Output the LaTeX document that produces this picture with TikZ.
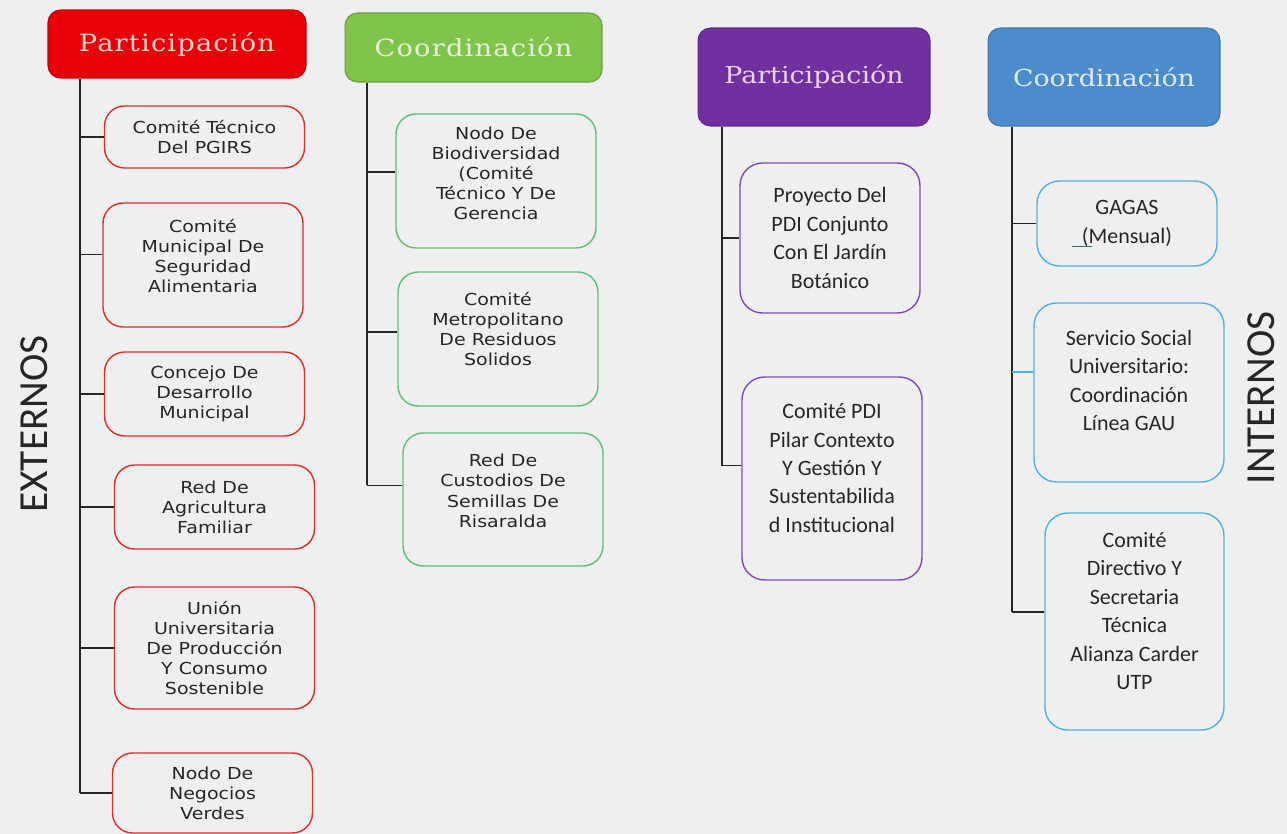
\documentclass[tikz,border=0pt]{standalone}
\usepackage{fontspec}
\usepackage{tikz}
\newfontfamily\boxfont[FakeStretch=1.15]{DejaVu Sans}
\newfontfamily\calfont{Carlito}
\newfontfamily\headfont[FakeStretch=1.15]{DejaVu Serif}
\newfontfamily\headwide[FakeStretch=1.15,LetterSpace=5]{DejaVu Serif}
\definecolor{bgc}{RGB}{239,239,239}
\definecolor{redf}{RGB}{232,0,8}
\definecolor{redt}{RGB}{250,215,205}
\definecolor{redl}{RGB}{222,45,45}
\definecolor{greenf}{RGB}{128,196,76}
\definecolor{greent}{RGB}{228,244,215}
\definecolor{greenl}{RGB}{92,190,120}
\definecolor{purf}{RGB}{112,48,160}
\definecolor{purt}{RGB}{238,210,240}
\definecolor{purl}{RGB}{125,75,175}
\definecolor{bluef}{RGB}{76,140,202}
\definecolor{bluet}{RGB}{222,236,250}
\definecolor{bluel}{RGB}{75,180,220}

\begin{document}
\begin{tikzpicture}[x=0.02cm,y=-0.02cm,
	trunk/.style={draw=black!85,line width=0.8pt},
	head/.style={rounded corners=0.25cm,line width=0.6pt},
	extbox/.style={draw,line width=0.8pt,rounded corners=0.4cm,minimum width=4cm,align=center,text=black!85,font=\boxfont\fontsize{9.4}{11.4}\selectfont},
	intbox/.style={draw,line width=0.8pt,rounded corners=0.45cm,minimum width=3.6cm,align=center,text=black!85,font=\calfont\fontsize{12.5}{16.2}\selectfont},
	side/.style={rotate=90,inner sep=0pt,text=black!85,font=\calfont\fontsize{23.5}{23.5}\selectfont}]
	\fill[bgc] (0,0) rectangle (1287,834);
	\useasboundingbox (0,0) rectangle (1287,834);
	
	%externos
	\node[side] (ext) at (34,424) {EXTERNOS};
	\node[head,fill=redf,draw=redf!85!black,minimum width=5.16cm,minimum height=1.36cm,text=redt,font=\headwide\fontsize{13.5}{15}\selectfont] (hr) at (177,44) {Participación};
	\node[extbox,draw=redl,minimum height=1.24cm] (e1) at (204.5,137) {Comité Técnico\\Del PGIRS};
	\node[extbox,draw=redl,minimum height=2.48cm,text depth=10pt] (e2) at (203,265) {Comité\\Municipal De\\Seguridad\\Alimentaria};
	\node[extbox,draw=redl,minimum height=1.68cm] (e3) at (204.5,394) {Concejo De\\Desarrollo\\Municipal};
	\node[extbox,draw=redl,minimum height=1.68cm] (e4) at (214.5,507) {Red De\\Agricultura\\Familiar};
	\node[extbox,draw=redl,minimum height=2.44cm] (e5) at (214.5,648) {Unión\\Universitaria\\De Producción\\Y Consumo\\Sostenible};
	\node[extbox,draw=redl,minimum height=1.6cm] (e6) at (212.5,793) {Nodo De\\Negocios\\Verdes};
	\coordinate (tr) at (80,78);
	\draw[trunk] (tr |- hr.south) -- (tr |- e6.west);
	\foreach \b in {e1,e2.174,e3,e4,e5,e6}
		\draw[trunk] (tr |- \b) -- (\b);
	
	\node[head,fill=greenf,draw=greenf!80!black,minimum width=5.14cm,minimum height=1.38cm,text=greent,font=\headwide\fontsize{13.5}{15}\selectfont] (hg) at (473.5,47.5) {Coordinación};
	\node[extbox,draw=greenl,minimum height=2.68cm,text depth=9pt] (g1) at (496,181) {Nodo De\\Biodiversidad\\(Comité\\Técnico Y De\\Gerencia};
	\node[extbox,draw=greenl,minimum height=2.68cm,text depth=11pt] (g2) at (498,339) {Comité\\Metropolitano\\De Residuos\\Solidos};
	\node[extbox,draw=greenl,minimum height=2.66cm,text depth=10pt] (g3) at (503,499.5) {Red De\\Custodios De\\Semillas De\\Risaralda};
	\coordinate (tg) at (367,82);
	\draw[trunk] (tg |- hg.south) -- (tg |- g3.172);
	\foreach \b in {g1.175,g2.176,g3.172}
		\draw[trunk] (tg |- \b) -- (\b);
	
	%internos
	\node[side] (int) at (1261,398) {INTERNOS};
	\node[head,fill=purf,draw=purf!85!black,minimum width=4.64cm,minimum height=1.96cm,text=purt,font=\headfont\fontsize{13.3}{15}\selectfont] (hp) at (814,77) {Participación};
	\node[intbox,draw=purl,minimum height=3cm] (p1) at (830,238) {Proyecto Del\\PDI Conjunto\\Con El Jardín\\Botánico};
	\node[intbox,draw=purl,minimum height=4.06cm,text depth=12pt] (p2) at (832,478.5) {Comité PDI\\Pilar Contexto\\Y Gestión Y\\Sustentabilida\\d Institucional};
	\coordinate (tp) at (722,126);
	\draw[trunk] (tp |- hp.south) -- (tp |- p2.172);
	\foreach \b in {p1,p2.172}
		\draw[trunk] (tp |- \b) -- (\b);
	
	\node[head,fill=bluef,draw=bluef!85!black,minimum width=4.64cm,minimum height=1.96cm,text=bluet,font=\headfont\fontsize{13.3}{15}\selectfont] (hb) at (1104,77) {Coordinación};
	\node[intbox,draw=bluel,minimum height=1.7cm] (b1) at (1127,223.5) {GAGAS\\\llap{\color{bluel!60!black}\rule[-2pt]{0.9em}{0.6pt}\hspace{-0.45em}}(Mensual)};
	\node[intbox,draw=bluel,minimum width=3.8cm,minimum height=3.58cm,text depth=14pt] (b2) at (1129,392.5) {Servicio Social\\Universitario:\\Coordinación\\Línea GAU};
	\node[intbox,draw=bluel,minimum width=3.58cm,minimum height=4.34cm,text depth=12pt] (b3) at (1134.5,621.5) {Comité\\Directivo Y\\Secretaria\\Técnica\\Alianza Carder\\UTP};
	\coordinate (tb) at (1012,126);
	\draw[trunk] (tb |- hb.south) -- (tb |- b3.174);
	\draw[trunk] (tb |- b1) -- (b1);
	\draw[trunk,draw=bluel] (tb |- b2.168) -- (b2.168);
	\draw[trunk] (tb |- b3.174) -- (b3.174);
\end{tikzpicture}
\end{document}
